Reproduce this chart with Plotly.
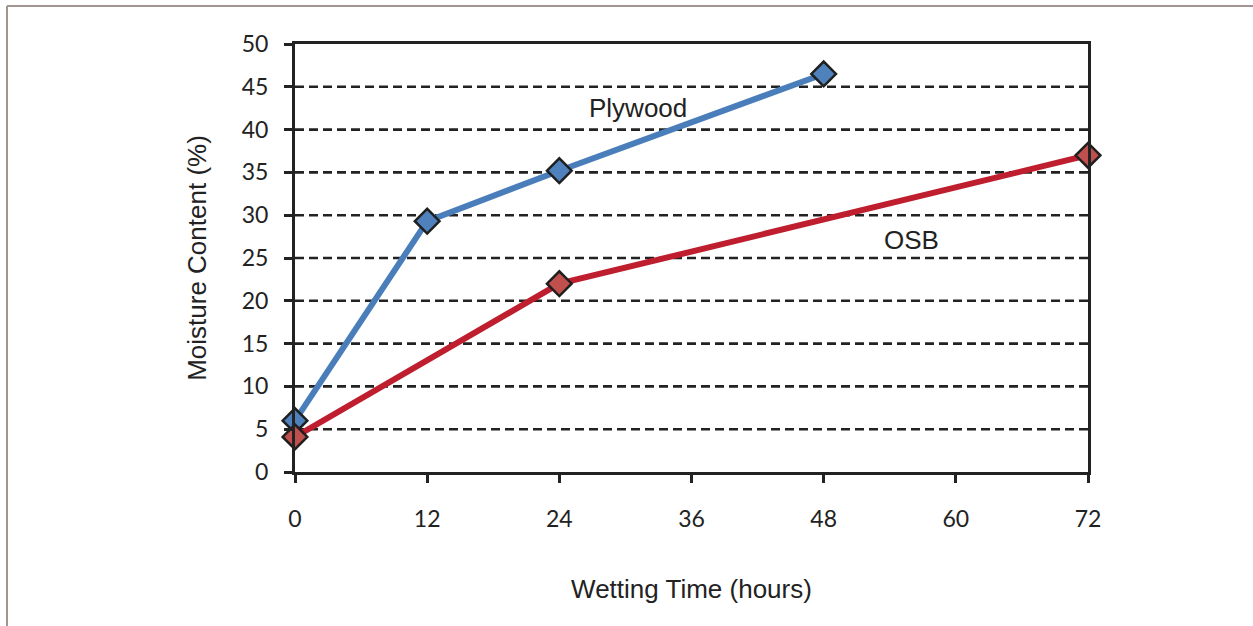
import plotly.graph_objects as go

hours_plywood = [0, 12, 24, 48]
mc_plywood = [6.0, 29.3, 35.2, 46.5]
hours_osb = [0, 24, 72]
mc_osb = [4.1, 22.0, 37.0]
x_ticks = [0, 12, 24, 36, 48, 60, 72]
y_ticks = [0, 5, 10, 15, 20, 25, 30, 35, 40, 45, 50]

W, H = 1253, 626
L, R, T, B = 295, 165, 44, 154
plot_w = W - L - R
plot_h = H - T - B

fig = go.Figure()
fig.add_trace(go.Scatter(
    x=hours_plywood, y=mc_plywood, mode="lines+markers", name="Plywood",
    line=dict(color="#4a7ebb", width=6),
    marker=dict(symbol="diamond", size=19, color="#4f81bd", line=dict(color="#1f1f1f", width=2.5)),
    cliponaxis=False,
))
fig.add_trace(go.Scatter(
    x=hours_osb, y=mc_osb, mode="lines+markers", name="OSB",
    line=dict(color="#be1e2d", width=6),
    marker=dict(symbol="diamond", size=19, color="#c0504d", line=dict(color="#1f1f1f", width=2.5)),
    cliponaxis=False,
))

for yv in y_ticks[1:-1]:
    fig.add_shape(type="line", xref="paper", yref="y", x0=0, x1=1, y0=yv, y1=yv,
                  line=dict(color="#222222", width=2.6, dash="9px,5px"), layer="below")

# outer frame lines of the picture
fig.add_shape(type="line", xref="paper", yref="paper",
              x0=(7 - L) / plot_w, x1=(W + 5 - L) / plot_w,
              y0=1 + (T - 6) / plot_h, y1=1 + (T - 6) / plot_h,
              line=dict(color="#a0968f", width=2))
fig.add_shape(type="line", xref="paper", yref="paper",
              x0=(7 - L) / plot_w, x1=(7 - L) / plot_w,
              y0=1 + (T - 6) / plot_h, y1=-(B + 5) / plot_h,
              line=dict(color="#a0968f", width=2))

fig.add_annotation(x=31.1, y=42.5, text="Plywood", showarrow=False,
                   font=dict(family="Liberation Sans, Arial", size=26, color="#222222"))
fig.add_annotation(x=56.0, y=27.1, text="OSB", showarrow=False,
                   font=dict(family="Liberation Sans, Arial", size=26, color="#222222"))

fig.update_layout(
    width=W, height=H,
    margin=dict(l=L, r=R, t=T, b=B, pad=0),
    paper_bgcolor="white", plot_bgcolor="white",
    showlegend=False,
    xaxis=dict(
        range=[0, 72], tickvals=x_ticks, ticktext=[str(v) for v in x_ticks],
        showgrid=False, zeroline=False,
        showline=True, linecolor="#222222", linewidth=3, mirror=True,
        ticks="outside", ticklen=8, tickwidth=3, tickcolor="#222222",
        ticklabelstandoff=16,
        tickfont=dict(family="Lato, Open Sans", size=23, color="#222222"),
        title=dict(text="Wetting Time (hours)", standoff=50,
                   font=dict(family="Liberation Sans, Arial", size=26, color="#222222")),
    ),
    yaxis=dict(
        range=[0, 50], tickvals=y_ticks, ticktext=[str(v) for v in y_ticks],
        showgrid=False, zeroline=False,
        showline=True, linecolor="#222222", linewidth=3, mirror=True,
        ticks="outside", ticklen=8, tickwidth=3, tickcolor="#222222",
        ticklabelstandoff=11,
        tickfont=dict(family="Lato, Open Sans", size=23, color="#222222"),
        title=dict(text="Moisture Content (%)", standoff=28,
                   font=dict(family="Liberation Sans, Arial", size=26, color="#222222")),
    ),
)

fig.write_html("out.html", config={"displayModeBar": False},
               post_script="document.body.style.margin='0';document.body.style.overflow='hidden';")
